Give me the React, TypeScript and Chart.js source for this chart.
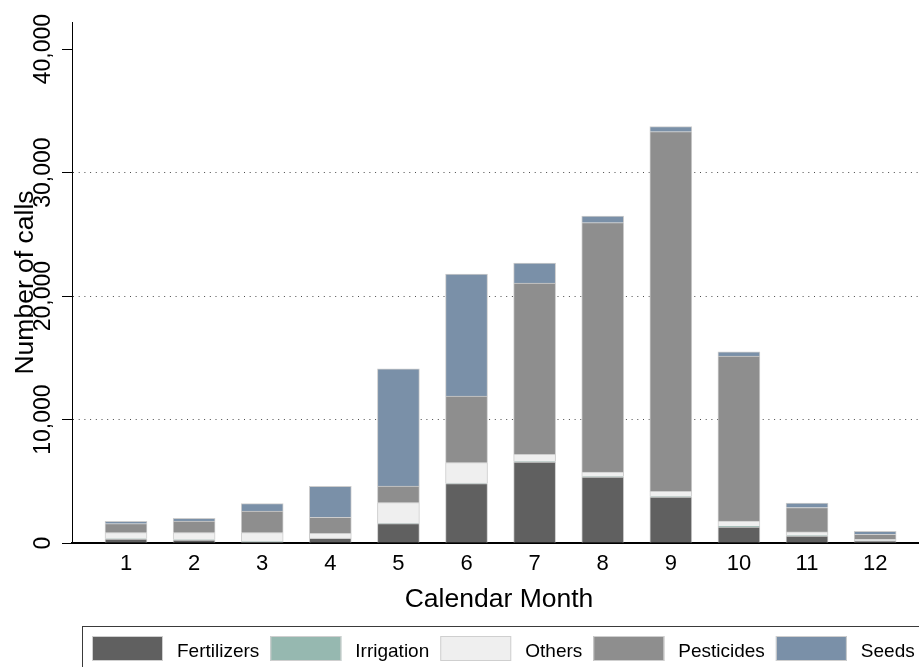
import React, { useEffect, useRef } from "react";
import { Chart, registerables } from "chart.js";

Chart.register(...registerables);

const MONTHS = [1, 2, 3, 4, 5, 6, 7, 8, 9, 10, 11, 12];
const FERTILIZERS = [315, 235, 80, 370, 1565, 4810, 6560, 5345, 3720, 1290, 560, 150];
const IRRIGATION = [30, 30, 30, 30, 30, 40, 40, 40, 50, 60, 40, 20];
const OTHERS = [490, 570, 725, 380, 1675, 1660, 585, 365, 410, 420, 300, 120];
const PESTICIDES = [730, 940, 1750, 1300, 1345, 5400, 13870, 20195, 29140, 13380, 1970, 410];
const SEEDS = [185, 220, 600, 2510, 9485, 9870, 1620, 545, 400, 325, 360, 240];
const Y_TICKS = [0, 10000, 20000, 30000, 40000];
const Y_MAX = 42200;
const X_MIN = 0.207;
const X_MAX = 12.644;

const SERIES_NAMES = ["Fertilizers", "Irrigation", "Others", "Pesticides", "Seeds"];
const SERIES_VALUES = [FERTILIZERS, IRRIGATION, OTHERS, PESTICIDES, SEEDS];
const SERIES_COLORS = ["#606060", "#96b8b0", "#efefef", "#8e8e8e", "#7a90a8"];

const FONT = '"Liberation Sans", Arial, Helvetica, sans-serif';

const textPlugin = {
  id: "stataText",
  afterDraw(chart: any) {
    const ctx = chart.ctx as CanvasRenderingContext2D;
    const xs = chart.scales.x;
    const ys = chart.scales.y;
    const area = chart.chartArea;
    ctx.save();
    ctx.fillStyle = "#000";
    ctx.textAlign = "center";
    ctx.textBaseline = "alphabetic";

    // y tick labels (rotated)
    ctx.font = `23px ${FONT}`;
    for (const v of Y_TICKS) {
      const py = ys.getPixelForValue(v);
      ctx.save();
      ctx.translate(area.left - 22, py);
      ctx.rotate(-Math.PI / 2);
      ctx.fillText(v.toLocaleString("en-US"), 0, 0);
      ctx.restore();
    }

    // x tick labels
    ctx.font = `22px ${FONT}`;
    for (const m of MONTHS) {
      ctx.fillText(String(m), xs.getPixelForValue(m), area.bottom + 27);
    }

    // axis titles
    ctx.font = `26.5px ${FONT}`;
    ctx.fillText("Calendar Month", 499, area.bottom + 64);
    ctx.save();
    ctx.translate(33, (area.top + area.bottom) / 2);
    ctx.rotate(-Math.PI / 2);
    ctx.fillText("Number of calls", 0, 0);
    ctx.restore();

    // legend
    const top = 626.5;
    ctx.strokeStyle = "#3a3a3a";
    ctx.lineWidth = 1;
    ctx.strokeRect(82.5, top, 1000, 100);
    ctx.font = `19px ${FONT}`;
    ctx.textAlign = "left";
    let lx = 92;
    chart.data.datasets.forEach((ds: any) => {
      ctx.fillStyle = ds.backgroundColor;
      ctx.fillRect(lx, 636, 71, 25);
      ctx.strokeStyle = "#cfcfcf";
      ctx.strokeRect(lx + 0.5, 636.5, 70, 24);
      lx += 71 + 14;
      ctx.fillStyle = "#000";
      ctx.fillText(ds.label, lx, 656.5);
      lx += ctx.measureText(ds.label).width + 11;
    });
    ctx.restore();
  },
};

export default function App() {
  const ref = useRef<HTMLCanvasElement | null>(null);

  useEffect(() => {
    if (!ref.current) return;
    const datasets = SERIES_NAMES.map((name, i) => ({
      label: name,
      data: MONTHS.map((m, j) => ({ x: m, y: SERIES_VALUES[i][j] })),
      backgroundColor: SERIES_COLORS[i],
      borderColor: "#cdcdcd",
      borderWidth: 1,
      barThickness: 42,
    }));
    const chart = new Chart(ref.current, {
      type: "bar",
      data: { datasets },
      options: {
        responsive: false,
        animation: false,
        devicePixelRatio: 1,
        layout: { padding: { left: 0, top: 22, right: 0, bottom: 0 } },
        plugins: { legend: { display: false }, tooltip: { enabled: false } },
        scales: {
          x: {
            type: "linear",
            stacked: true,
            offset: false,
            bounds: "data",
            min: X_MIN,
            max: X_MAX,
            ticks: { display: false, stepSize: 1, includeBounds: false },
            grid: { display: false, drawTicks: false, offset: false },
            border: { display: true, color: "#000", width: 2 },
            afterBuildTicks: (s: any) => {
              s.ticks = MONTHS.map((m) => ({ value: m }));
              s.min = X_MIN;
              s.max = X_MAX;
            },
            afterFit: (s: any) => {
              s.height = 124;
            },
          },
          y: {
            type: "linear",
            stacked: true,
            bounds: "data",
            min: 0,
            max: Y_MAX,
            ticks: { display: false, stepSize: 10000, includeBounds: false },
            afterBuildTicks: (s: any) => {
              s.ticks = Y_TICKS.map((v) => ({ value: v }));
              s.min = 0;
              s.max = Y_MAX;
            },
            grid: {
              display: true,
              drawTicks: true,
              tickLength: 10,
              tickColor: "#000",
              tickWidth: 1,
              tickBorderDash: [],
              lineWidth: 1,
              color: (c: any) =>
                c.tick && (c.tick.value === 0 || c.tick.value >= 40000) ? "rgba(0,0,0,0)" : "#4a4a4a",
            },
            border: { display: true, color: "#000", width: 1, dash: [1, 4.7] },
            afterFit: (s: any) => {
              s.width = 72;
            },
          },
        },
      },
      plugins: [textPlugin],
    } as any);
    return () => chart.destroy();
  }, []);

  return (
    <div style={{ position: "fixed", left: 0, top: 0, width: 919, height: 667, background: "#fff" }}>
      <canvas ref={ref} width={919} height={667} style={{ display: "block" }} />
    </div>
  );
}
